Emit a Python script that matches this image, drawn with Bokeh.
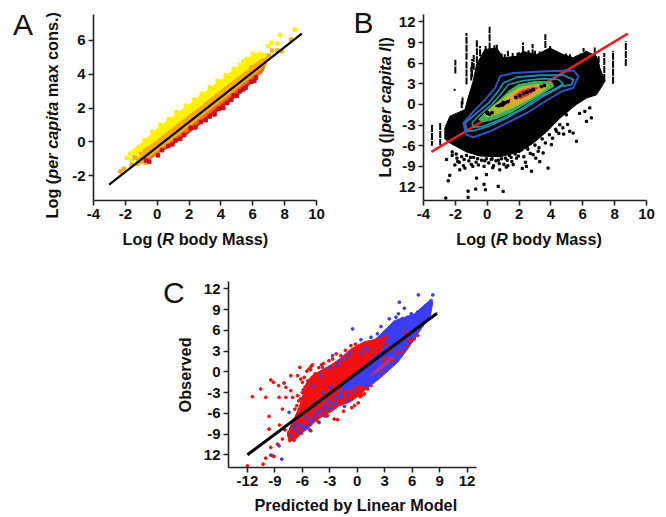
from math import pi
from bokeh.plotting import figure
from bokeh.models import Label, FixedTicker
from bokeh.layouts import column, row
from bokeh.embed import file_html
from bokeh.resources import INLINE

FONT = "Liberation Sans"

# ---------- Panel A ----------
a_line_x = [-3.02, 9.08]
a_line_y = [-2.53, 6.40]
a_yellow_x = [-1.5,-1.0,-0.5,0.0,0.5,1.0,1.5,2.0,2.5,3.0,3.5,4.0,4.5,5.0,5.5,6.0,6.4,6.6, 5.6,4.6,3.6,2.6,1.6,0.6,-0.4,-1.0,-1.5]
a_yellow_y = [-0.45,-0.1,0.35,0.78,1.15,1.5,1.85,2.2,2.58,2.93,3.3,3.65,4.02,4.4,4.75,5.1,5.15,4.95, 4.2,3.48,2.75,2.0,1.28,0.55,-0.2,-0.65,-0.85]
a_orange_x = [-1.6,-0.4,0.6,1.6,2.6,3.6,4.6,5.6,6.6,7.0, 6.5,5.5,4.5,3.5,2.5,1.5,0.5,-0.5,-1.1]
a_orange_y = [-0.85,-0.2,0.55,1.28,2.0,2.75,3.48,4.2,4.95,4.9, 4.3,3.55,2.78,2.05,1.3,0.55,-0.2,-0.9,-1.3]
a_dkorange_x = [-0.9,0.0,1.0,2.0,3.0,4.0,5.0,6.0,6.9, 6.6,5.6,4.6,3.6,2.6,1.6,0.6,-0.4]
a_dkorange_y = [-1.0,-0.35,0.4,1.15,1.9,2.6,3.35,4.1,4.75, 4.1,3.45,2.65,1.95,1.15,0.4,-0.3,-1.0]
a_red_x = [-0.5,0.5,1.5,2.5,3.5,4.5,5.5,6.3,6.3,5.5,5.0,4.5,4.0,3.5,3.0,2.5,2.0,1.5,1.0,0.5,0.0]
a_red_y = [-0.75,0.0,0.75,1.5,2.25,3.0,3.75,4.3,3.85,3.1,2.7,2.35,1.95,1.6,1.3,0.9,0.55,0.2,-0.15,-0.45,-0.6]
a_pts_yellow_x = [8.64,7.72,6.96,7.17,7.55,6.7,6.3,-1.9,-1.6,-1.35,-1.15,6.5,6.0,5.6,5.2,-1.7,-1.45,-1.25,-0.8,-0.3,0.2,0.7,1.2,1.8,2.3,2.8,3.3,3.8,4.3,4.8,5.4,-1.05,-0.55]
a_pts_yellow_y = [6.64,6.30,5.67,5.85,5.81,5.12,5.12,-0.95,-1.1,-0.7,-0.3,5.2,5.2,4.9,4.55,-0.7,-0.55,-0.8,0.1,0.6,1.0,1.35,1.75,2.12,2.5,2.85,3.22,3.6,3.95,4.32,4.75,-0.45,0.0]
a_pts_orange_x = [7.2,7.55,7.8,8.4,-2.1,-2.3,-1.25,-1.0,-1.6,6.9,7.0,-0.75,-1.4,6.7,5.9]
a_pts_orange_y = [5.4,5.4,5.37,6.05,-1.6,-1.76,-1.3,-1.15,-1.35,4.9,5.1,-1.25,-0.95,4.6,4.4]
a_pts_dkred_x = [0.05,-0.5,-0.7,6.2,5.55,4.8,2.75,2.1,1.15,0.7,0.3,1.7,3.3,3.9,4.4,5.2,5.9,6.1,0.95,1.45,2.4,3.05,3.6,4.15,4.65,5.0,5.4]
a_pts_dkred_y = [-0.8,-1.17,-1.1,3.8,3.2,2.75,1.17,0.83,0.08,-0.25,-0.5,0.4,1.5,1.95,2.3,3.0,3.55,3.6,-0.15,0.18,0.85,1.28,1.62,2.0,2.48,2.72,3.1]
a_x_ticks = [-4,-2,0,2,4,6,8,10]
a_y_ticks = [-2,0,2,4,6]

# ---------- Panel B ----------
b_line_x = [-3.5, 8.83]
b_line_y = [-6.9, 10.3]
b_cloud_x = [-2.66,-2.34,-1.4,-1.2,-0.88,-0.67,-0.15,0.6,1.0,1.84,2.26,3.1,3.93,4.77,5.4,6.25,6.86,7.07,7.4,6.86,6.25,5.6,4.56,3.72,2.9,2.05,0.8,-0.46,-1.3,-2.34,-2.66]
b_cloud_y = [-3.4,-1.7,-0.75,0.95,3.4,5.8,8.0,8.2,6.8,7.0,7.7,7.25,8.2,7.25,6.8,7.7,7.0,5.3,3.4,1.4,0.95,0.0,-2.0,-4.0,-5.6,-6.9,-7.6,-7.5,-6.9,-5.6,-5.0]
stripe_x  = [-3.47,-2.95,-2.0,-2.05,-1.3,-1.3,-1.0,-0.65,-0.45,0.15,0.15,1.3,2.25,2.0,3.65,3.0,4.3,6.2,6.5,7.0,7.35,7.9,8.7,-1.6,-1.55,-0.95,-0.85,-0.1,0.45,0.6,0.9,1.1,1.6,1.9,2.6,2.85,3.3,3.45,3.95,4.15,4.6,4.95,5.2,5.6,5.85,6.05,6.75]
stripe_y0 = [-3.0,-2.7,4.5,2.0,6.5,2.9,3.5,6.0,7.0,9.2,8.0,7.0,7.5,7.0,8.2,7.0,6.5,7.0,6.5,2.5,3.4,3.0,5.6,-0.5,0.0,4.0,5.0,7.5,7.6,7.8,6.5,6.5,6.5,6.5,6.9,7.0,6.8,6.8,7.5,6.8,6.6,6.5,6.4,6.4,6.4,6.5,6.4]
stripe_y1 = [-6.0,-5.9,6.5,2.3,10.4,6.3,5.5,9.5,8.5,11.3,9.0,7.8,9.0,7.6,10.2,7.8,7.5,7.8,7.3,7.0,7.5,7.8,9.2,0.6,1.2,6.6,7.2,8.6,8.6,8.7,7.4,7.3,7.5,7.6,7.9,8.8,7.7,7.6,8.6,8.0,7.2,7.4,7.3,7.1,7.4,8.2,8.3]
b_out_x = [-2.6,-2.35,-2.45,-2.55,-2.03,-1.72,-1.4,-1.2,-1.2,-0.72,-0.2,-0.11,0.69,1.0,-0.05,0.79,-0.67,2.46,3.3,3.82,2.78,1.63,1.84,4.03,3.51,5.18,5.39,5.6,6.13,6.44,6.54,6.23,4.97,4.35,4.56,2.88,2.4,1.2,3.2,3.05,2.2,1.3,0.35,-0.9,-1.75,-2.2,5.05,5.8,4.8,
           -2.2,-1.95,-1.85,-1.6,-1.5,-1.3,-1.15,-1.0,-0.85,-0.7,-0.55,-0.35,-0.2,-0.05,0.1,0.25,0.4,0.55,0.75,0.9,1.05,1.25,1.4,1.55,1.75,1.95,2.15,2.3,2.55,2.7,3.0,3.25,3.45,3.65,3.9,4.1,4.3,4.5,4.75,
           -1.9,-1.45,-1.05,-0.6,-0.15,0.3,0.7,1.15,1.5,2.0,2.5]
b_out_y = [-13.6,-10.3,-11.1,-8.0,-8.8,-9.5,-9.25,-12.6,-13.5,-12.3,-11.6,-12.4,-11.9,-12.65,-10.2,-9.5,-10.7,-9.0,-8.3,-9.25,-9.7,-8.75,-7.8,-5.85,-7.05,-3.9,-4.15,-5.35,-1.0,-0.5,-1.95,-2.45,-1.5,-3.9,-2.95,-7.3,-8.4,-9.1,-6.8,-7.8,-9.3,-8.9,-9.2,-9.0,-8.4,-7.4,-2.9,-1.3,-4.3,
           -6.9,-7.2,-8.3,-7.6,-8.9,-7.4,-8.2,-8.7,-7.7,-8.4,-8.8,-8.1,-9.0,-7.9,-8.5,-8.0,-8.9,-8.2,-8.6,-7.9,-8.7,-8.1,-7.4,-8.3,-7.2,-7.5,-6.6,-7.6,-6.5,-7.1,-5.9,-6.3,-5.0,-5.6,-4.4,-4.9,-3.6,-4.2,-3.4,
           -7.8,-8.0,-7.7,-7.9,-8.2,-7.9,-8.1,-7.8,-7.7,-6.8,-6.2]
ring_blue_x = [-1.34,-1.49,-0.86,-0.13,0.5,0.81,1.65,3.75,5.42,5.73,5.4,4.69,3.64,2.49,1.24,0.19,-0.86,-1.34]
ring_blue_y = [-4.38,-2.69,-1.0,0.71,2.4,4.1,4.58,4.83,4.93,4.1,2.4,1.92,0.47,-1.24,-2.69,-3.9,-4.77,-4.38]
ring_teal_x = [-1.28,-1.39,-0.65,0.08,0.6,1.02,1.85,3.32,4.78,5.41,5.3,4.68,3.53,2.38,1.23,0.08,-0.86,-1.28]
ring_teal_y = [-3.9,-2.69,-1.23,0.22,1.68,3.13,3.96,4.25,4.25,3.62,2.89,2.65,1.19,-0.5,-1.96,-3.17,-3.8,-3.9]
ring_sea_x = [-0.97,-0.45,0.29,0.91,1.33,2.27,3.53,4.47,4.78,4.36,3.32,2.06,0.81,-0.24,-0.86,-0.97]
ring_sea_y = [-2.69,-1.48,-0.02,1.68,2.89,3.47,3.76,3.62,2.99,2.4,1.19,-0.75,-2.2,-3.17,-3.32,-2.69]
fill_green_x = [-0.55,0.08,0.7,1.33,1.96,3.11,4.05,4.19,3.53,2.48,1.44,0.39,-0.24]
fill_green_y = [-2.2,-0.75,0.47,1.92,2.89,3.37,3.28,2.65,1.68,0.22,-1.23,-2.2,-2.54]
fill_lime_x = [-0.24,0.5,1.33,2.06,3.11,3.84,3.63,2.59,1.54,0.5,-0.03]
fill_lime_y = [-1.47,-0.02,1.44,2.5,2.89,2.89,2.16,0.71,-0.5,-1.47,-1.81]
fill_orange_x = [0.91,1.54,2.27,3.21,3.53,2.69,1.85,1.12]
fill_orange_y = [-0.02,1.44,2.31,2.65,2.5,1.19,0.22,-0.5]
fill_red_x = [1.65,2.17,2.9,3.21,2.69,2.06]
fill_red_y = [1.19,2.02,2.5,2.4,1.53,0.8]
fill_pink_x = [1.9,2.38,2.69,2.48,2.1]
fill_pink_y = [1.44,2.02,2.16,1.68,1.19]
b_chunk_x = [0.5,1.44,1.02]
b_chunk_y = [-0.26,0.71,-0.26]
b_speck_x = [2.3,2.5,2.7,2.9,3.4,3.6,1.0,0.85,0.7,1.1,1.3,0.0,0.0,0.3,-0.1,0.15,1.8,2.05]
b_speck_y = [1.6,1.8,2.0,2.15,2.6,2.75,0.3,0.0,-0.2,0.2,0.4,-1.3,-1.15,-1.2,-1.0,-1.4,1.0,1.3]
b_x_ticks = [-4,-2,0,2,4,6,8,10]
b_y_ticks = [-12,-9,-6,-3,0,3,6,9,12]

# ---------- Panel C ----------
c_line_x = [-12.0, 8.72]
c_line_y = [-12.0, 8.48]
c_blue_x = [-7.45,-6.53,-4.34,-2.15,-0.69,2.23,4.05,6.24,7.88,8.25,8.0,6.6,5.51,4.42,2.59,0.77,-1.42,-3.61,-5.44,-6.9]
c_blue_y = [-8.3,-5.87,-3.45,-0.07,2.34,5.0,7.4,8.38,10.3,10.07,8.14,5.48,3.3,1.38,-0.8,-2.73,-4.42,-5.87,-8.29,-9.49]
c_red_x = [-7.63,-7.08,-6.35,-5.9,-5.62,-5.0,-4.34,-3.5,-2.7,-1.7,-0.69,0.77,2.23,3.3,2.5,1.0,-0.5,-1.7,-1.9,-2.52,-3.98,-5.44,-6.53,-7.45]
c_red_y = [-9.0,-7.32,-5.14,-3.2,-1.76,-0.6,-0.07,0.55,1.14,2.1,3.31,4.37,4.76,5.2,3.0,1.3,-0.3,-1.6,-4.8,-5.48,-6.59,-7.8,-9.49,-10.2]
c_red2_x = [-1.9,-0.7,0.2,0.9,0.6,-0.7,-1.9]
c_red2_y = [-3.0,-2.6,-2.0,-2.3,-3.0,-4.3,-4.9]
c_red3_x = [1.2,2.4,3.6,4.2,3.2,1.9]
c_red3_y = [-0.8,0.9,2.2,2.0,0.9,-0.4]
c_pts_red_x = [-11.46,-10.55,-10.0,-9.45,-9.16,-8.6,-8.0,-7.8,-8.54,-7.8,-7.26,-7.26,-6.53,-6.28,-6.17,-5.99,-5.26,-5.07,-7.08,-6.53,-6.82,-8.18,-9.64,-9.64,-9.45,-9.27,-10.0,-9.09,-8.72,-10.29,-12.0,-8.18,-8.0,-8.5,-2.52,-2.15,-3.25,-0.69,-1.79,-2.7,-3.9,0.77,1.13,6.6,6.24,5.9,5.5,4.9,4.4,3.8,2.8,-6.0,-5.7,-5.4,-6.4,-4.9,-4.6,-0.3,0.3,-0.6,4.7,5.2,3.0,3.7,
             -6.6,-6.2,-5.9,-5.8,-5.5,-5.1,-4.9,-4.2,-3.7,-3.1,-2.3,-1.3,-0.2,-7.9,-7.5,-6.9,-6.1,-5.2,-4.3,-3.4,-1.5,0.1,0.5,1.5,2.8,3.2,5.6]
c_pts_red_y = [-3.6,-2.49,-3.7,-1.18,-1.52,-2.0,-1.62,-2.25,-3.7,-3.7,-2.73,-0.56,-0.56,0.65,-1.04,-1.52,0.41,0.75,-3.7,-3.45,-5.39,-5.39,-6.45,-8.29,-10.94,-12.15,-12.49,-12.25,-10.46,-13.36,-13.6,-9.73,-8.29,-7.7,-6.84,-6.93,-6.35,3.79,2.34,1.86,1.0,-3.2,-2.49,5.24,4.76,4.4,3.7,2.9,2.7,1.6,-0.1,-3.0,-2.2,-1.3,-4.2,-0.9,-0.3,-4.9,-3.6,-5.2,4.6,5.6,2.0,3.2,
             -4.9,-3.9,-2.6,-0.8,0.1,0.3,1.0,0.6,1.2,1.6,2.6,3.1,4.0,-8.4,-8.8,-9.9,-8.9,-8.4,-7.2,-6.4,-5.7,-4.5,-3.4,-2.0,1.5,3.9,4.6]
c_pts_blue_x = [-0.51,-2.7,-3.8,4.6,5.15,6.68,8.25,8.07,2.59,0.4,-8.25,-8.54,-9.45,-7.45,-5.07,-4.16,-3.61,4.23,3.69,5.51,6.6,3.5,1.5,2.2,2.96,-3.2,-2.5,-1.9,-1.4,-1.0,-2.9,-3.6,-4.4,-5.0,-5.6,-6.2,-6.7,-7.0,-6.0,-2.0,-4.0,-4.9,-2.2,0.4,0.8,1.1,-0.9,-1.3,-3.0,
              -6.4,-5.9,-5.3,-4.7,-4.1,-3.3,-2.8,-2.3,-1.7,-1.1,-0.4,-5.6,-3.0,-2.4,-4.6,-3.8,-0.5,0.0,-1.2,-2.1,-3.6,-4.3,-7.3,-6.6,-5.1,7.2,6.9,6.2,5.9,4.9,4.5,7.5]
c_pts_blue_y = [6.2,2.34,0.65,10.07,9.2,11.13,11.13,10.3,6.55,4.66,-12.63,-10.7,-12.05,-5.87,-8.53,-7.32,-6.35,7.9,6.45,7.9,8.62,7.66,5.0,5.5,5.72,-4.2,-3.8,-3.1,-5.0,-4.2,-5.3,-4.8,-5.9,-7.0,-6.6,-7.8,-8.5,-8.0,-8.2,1.6,-0.5,-2.1,1.0,2.7,3.4,3.2,2.6,2.0,0.6,
              -8.8,-7.9,-7.2,-6.5,-5.6,-5.2,-4.6,-4.5,-3.7,-3.3,-2.8,-8.0,-2.2,-2.6,-4.5,-3.1,-0.9,-1.5,-1.7,-3.6,-5.5,-6.0,-9.2,-7.6,-5.4,9.1,8.8,7.6,8.4,7.7,8.4,9.6]
c_x_ticks = [-12,-9,-6,-3,0,3,6,9,12]
c_y_ticks = [-12,-9,-6,-3,0,3,6,9,12]


def make(width, height, L, T, fw, fh, xr, yr, xticks, yticks, xover=None, yover=None):
    p = figure(width=width, height=height, x_range=xr, y_range=yr,
               output_backend="svg", toolbar_location=None,
               min_border_left=L, min_border_top=T,
               min_border_right=width - L - fw, min_border_bottom=height - T - fh,
               frame_width=fw, frame_height=fh)
    p.outline_line_color = None
    p.grid.visible = False
    p.background_fill_color = "white"
    p.border_fill_color = "white"
    for ax, ticks, over in ((p.xaxis[0], xticks, xover), (p.yaxis[0], yticks, yover)):
        ax.ticker = FixedTicker(ticks=ticks)
        ax.minor_tick_line_color = None
        ax.axis_line_color = "#222222"
        ax.axis_line_width = 1.6
        ax.major_tick_line_color = "#222222"
        ax.major_tick_line_width = 1.6
        ax.major_tick_out = 5
        ax.major_tick_in = 0
        ax.major_label_text_font = FONT
        ax.major_label_text_font_style = "bold"
        ax.major_label_text_font_size = "15px"
        ax.major_label_text_color = "#111111"
        ax.major_label_standoff = 3
        ax.major_label_overrides = {t: (over or {}).get(t, str(t)) for t in ticks}
    return p


PAGE_W, PAGE_H = 660, 515
# transparent figure over the whole page: its frame is the whole page, so no text is clipped
ov = figure(width=PAGE_W, height=PAGE_H, x_range=(0, PAGE_W), y_range=(PAGE_H, 0),
            output_backend="svg", toolbar_location=None, min_border=0,
            x_axis_location=None, y_axis_location=None)
ov.outline_line_color = None
ov.grid.visible = False
ov.background_fill_color = None
ov.border_fill_color = None


def put(px, py, txt, style="bold", size=16.3, angle=0):
    # the label's baseline sits about 0.3 em past the anchor: compensate across the text direction
    if angle:
        px -= 0.3 * size
    else:
        py -= 0.3 * size
    ov.add_layout(Label(x=px, y=py, x_units="canvas", y_units="canvas",
                        text=txt, text_font=FONT, text_font_style=style,
                        text_font_size=f"{size}px", text_color="#111111", angle=angle,
                        text_align="left", text_baseline="alphabetic"))


def rich(px, py, parts, vertical=False, size=16.3):
    for txt, style, lead, em in parts:
        adv = lead * size
        if vertical:
            py -= adv
            put(px, py, txt, style, size, pi / 2)
            py -= em * size
        else:
            px += adv
            put(px, py, txt, style, size)
            px += em * size


B, BI = "bold", "bold italic"

# ---- A ----
axr, ayr = (-4.0, 10.0), (-3.47, 7.53)
pa = make(333, 265, 93, 14, 223, 186, axr, ayr, a_x_ticks, a_y_ticks)
pa.patch(a_yellow_x, a_yellow_y, color="#FFF200")
pa.patch(a_red_x, a_red_y, color="#E01B1B")
pa.patch(a_dkorange_x, a_dkorange_y, color="#F06A1A")
pa.patch(a_orange_x, a_orange_y, color="#FBA919")
pa.scatter(a_pts_yellow_x, a_pts_yellow_y, marker="square", size=3.5, color="#FFF200")
pa.scatter(a_pts_orange_x, a_pts_orange_y, marker="square", size=3.5, color="#FBA919")
pa.scatter(a_pts_dkred_x, a_pts_dkred_y, marker="square", size=3.5, color="#C8101A")
pa.line(a_line_x, a_line_y, color="black", line_width=2.2)
put(12.5, 33, "A", "normal", 30)
rich(122, 243, [("Log (", B, 0, 2.444), ("R", BI, 0, 0.722), ("body Mass)", B, 0.278, 5.501)])
rich(56.5, 218, [("Log (", B, 0, 2.444), ("per capita", BI, 0, 4.724), ("max cons.)", B, 0.278, 5.224)], vertical=True)

# ---- B ----
bxr, byr = (-4.0, 10.0), (-13.96, 13.08)
pb = make(327, 265, 90, 13, 223, 186, bxr, byr, b_x_ticks, b_y_ticks, yover={-12: "12"})
pb.patch(b_cloud_x, b_cloud_y, color="black")
pb.segment(stripe_x, stripe_y0, stripe_x, stripe_y1, color="black", line_width=2, line_dash="7 1")
pb.scatter(b_out_x, b_out_y, marker="square", size=2.2, color="black")
pb.line(b_line_x, b_line_y, color="#EE1C25", line_width=2.5)
pb.patch(fill_green_x, fill_green_y, color="#3FAE58")
pb.patch(fill_lime_x, fill_lime_y, color="#A8BE32")
pb.patch(fill_orange_x, fill_orange_y, color="#E8A030")
pb.patch(fill_red_x, fill_red_y, color="#E03A3A")
pb.patch(fill_pink_x, fill_pink_y, color="#E8307A")
pb.patch(b_chunk_x, b_chunk_y, color="black")
pb.scatter(b_speck_x, b_speck_y, marker="square", size=2.4, color="black")
pb.line(ring_sea_x, ring_sea_y, color="#1F9AA0", line_width=1.6)
pb.line(ring_teal_x, ring_teal_y, color="#2088BE", line_width=1.8)
pb.line(ring_blue_x, ring_blue_y, color="#2F55C4", line_width=2)
put(353, 31, "B", "normal", 30)
rich(455.7, 243, [("Log (", B, 0, 2.444), ("R", BI, 0, 0.722), ("body Mass)", B, 0.278, 5.501)])
rich(389.5, 177, [("Log (|", B, 0, 2.724), ("per capita I", BI, 0, 5.28), ("|)", B, 0, 0.613)], vertical=True)

# ---- C ----
cxr, cyr = (-14.07, 13.03), (-13.84, 13.07)
pc = make(660, 250, 228, 16, 248, 186, cxr, cyr, c_x_ticks, c_y_ticks, yover={-12: "12"})
pc.patch(c_blue_x, c_blue_y, color="#3C3CF0")
pc.patch(c_red_x, c_red_y, color="#F01010")
pc.patch(c_red2_x, c_red2_y, color="#F01010")
pc.patch(c_red3_x, c_red3_y, color="#E83050", fill_alpha=0.6, line_color=None)
pc.scatter(c_pts_red_x, c_pts_red_y, marker="circle", size=2.8, color="#F01010")
pc.scatter(c_pts_blue_x, c_pts_blue_y, marker="circle", size=2.8, color="#3C3CF0")
pc.line(c_line_x, c_line_y, color="black", line_width=3)
put(162.5, 300.5, "C", "normal", 30)
put(254, 509.5, "Predicted by Linear Model")
put(189.3, 412, "Observed", "bold", 16.3, pi / 2)

layout = column(row(pa, pb, spacing=0), row(pc), row(ov, margin=(-PAGE_H, 0, 0, 0)), spacing=0)
open("out.html", "w").write(file_html(layout, INLINE))
